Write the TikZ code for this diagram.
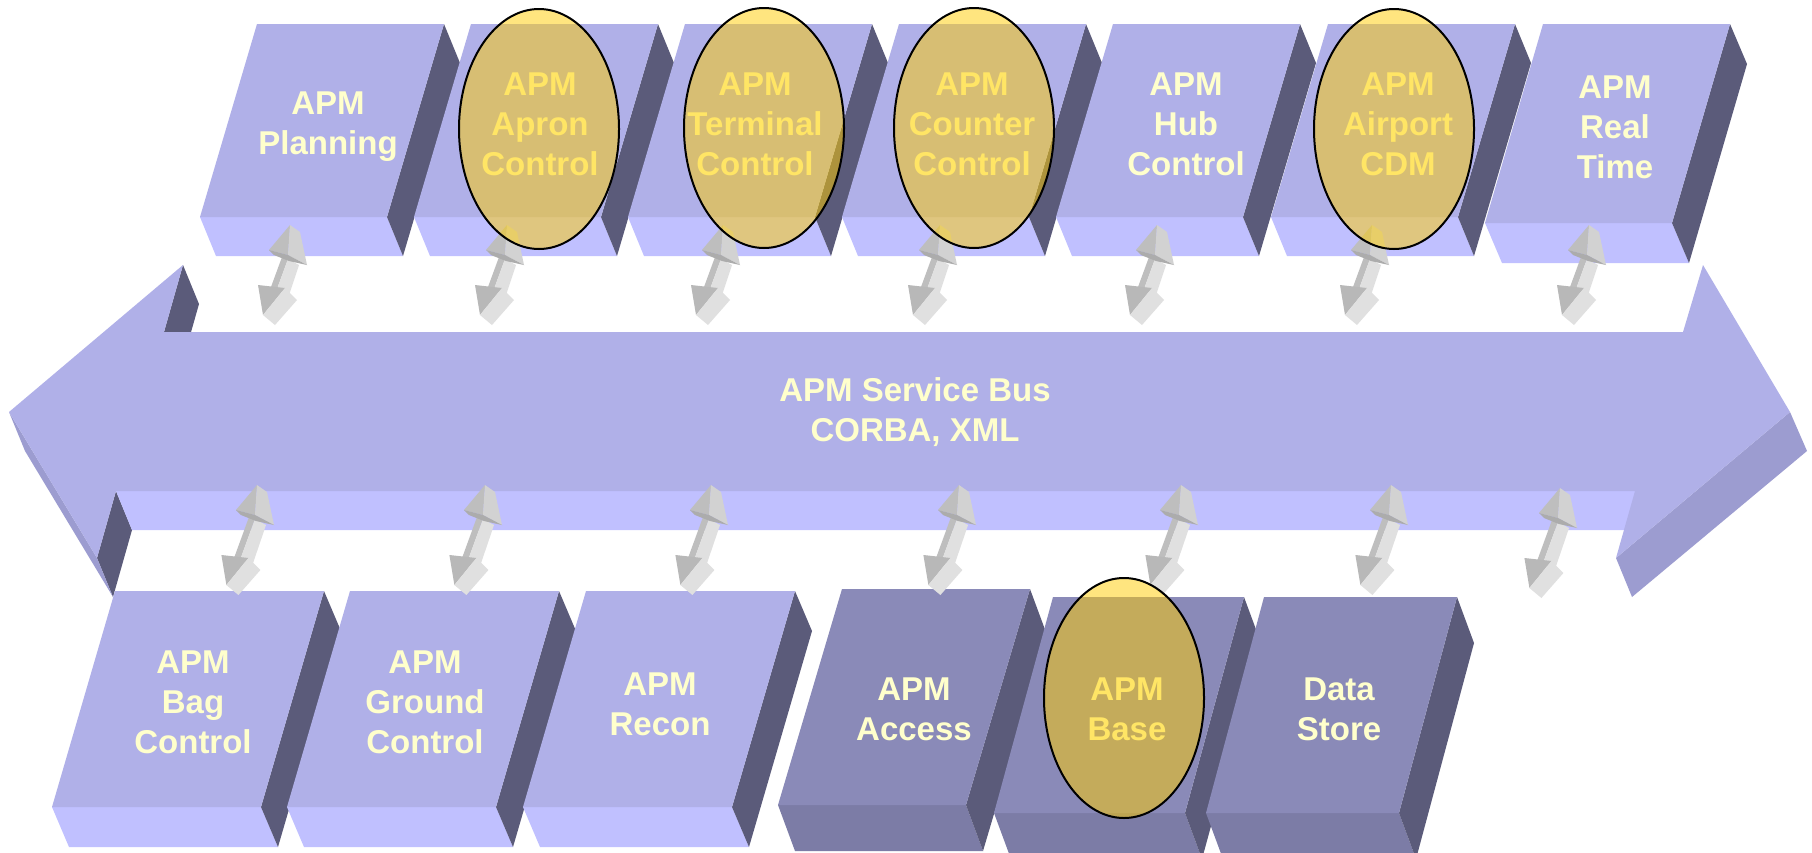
\documentclass[tikz,border=0pt]{standalone}
\usepackage{fontspec}
\setmainfont{Liberation Sans}
\usetikzlibrary{shapes.geometric}
\definecolor{topface}{RGB}{176,176,232}
\definecolor{lightface}{RGB}{192,192,255}
\definecolor{darkface}{RGB}{91,91,122}
\definecolor{midface}{RGB}{156,156,208}
\definecolor{dbfront}{RGB}{138,138,184}
\definecolor{dbbottom}{RGB}{124,124,166}
\definecolor{labelyellow}{RGB}{255,255,204}
\definecolor{hilite}{RGB}{255,204,0}
\definecolor{gmid}{RGB}{190,190,190}
\definecolor{gside}{RGB}{210,210,210}
\definecolor{gdark}{RGB}{172,172,172}
\definecolor{gdarkb}{RGB}{184,184,184}
\definecolor{glight}{RGB}{224,224,224}
% slab box: x y w h slant dx dy frontcolor bottomcolor
\newcommand{\slabbox}[9]{%
  \fill[#9] (#1-#5,#2+#4) -- ++(#3,0) -- ++(#6,#7) -- ++(-#3,0) -- cycle;
  \fill[darkface] (#1+#3,#2) -- ++(#6,#7) -- ++(-#5,#4) -- ++(-#6,-#7) -- cycle;
  \fill[#8] (#1,#2) -- ++(#3,0) -- ++(-#5,#4) -- ++(-#3,0) -- cycle;
}
% gray 3D double arrow: tip x, tip y, extra length
\newcommand{\dblarrow}[3]{%
  \begin{scope}[shift={(#1,#2)}]
    \fill[gmid] (-8,32) -- (-2,34) -- ({-13-0.36*#3},{64+#3}) -- ({-19-0.36*#3},{62+#3}) -- cycle;
    \fill[glight] (-2,34) -- (9,40) -- ({-1-0.36*#3},{70+#3}) -- ({-13-0.36*#3},{64+#3}) -- cycle;
    \fill[gmid] (0,0) -- (-21,25) -- (-2,30) -- cycle;
    \fill[gside] (0,0) -- (10,7) -- (17,40) -- (-2,30) -- cycle;
    \fill[gdark] (-21,25) -- (-2,30) -- (17,40) -- (-1,36) -- (-16,30) -- cycle;
    \begin{scope}[shift={({-0.36*#3},{#3})}]
      \fill[gdarkb] (-32,60) -- (-5,63) -- (-27,90) -- cycle;
      \fill[glight] (-5,63) -- (7,75) -- (-15,100) -- (-27,90) -- cycle;
    \end{scope}
  \end{scope}
}
\tikzset{
  lbl/.style={text=labelyellow, font=\fontsize{33}{40}\selectfont\bfseries, align=center, inner sep=0pt},
  hl/.style={ellipse, draw=black, line width=2pt, fill=hilite, fill opacity=0.5,
             minimum width=160pt, minimum height=240pt, inner sep=0pt}
}
\begin{document}
\begin{tikzpicture}[x=1pt,y=-1pt]
\useasboundingbox (0,0) rectangle (1812,852);
\fill[white] (0,0) rectangle (1812,852);

% top row of boxes
\foreach \x in {257,471,685,899,1113,1328} {\slabbox{\x}{24}{187}{193}{57}{16}{39}{topface}{lightface}}
\slabbox{1543}{24}{187}{199}{58}{17}{40}{topface}{lightface}

% service bus (3D double-headed arrow)
\fill[darkface] (183,265) -- (199,304) -- (180,371) -- (164,332) -- cycle;
\fill[darkface] (116,491) -- (132,530) -- (113,597) -- (97,558) -- cycle;
\fill[midface] (9,412) -- (25,451) -- (113,597) -- (97,558) -- cycle;
\fill[lightface] (116,491) -- (1635,491) -- (1651,530) -- (132,530) -- cycle;
\fill[midface] (1790,412) -- (1807,451) -- (1632,597) -- (1616,558) -- cycle;
\fill[topface] (9,412) -- (183,265) -- (164,332) -- (1683,332) -- (1703,265)
  -- (1790,412) -- (1616,558) -- (1635,491) -- (116,491) -- (97,558) -- cycle;

% bottom row of boxes
\foreach \x in {115,350,586} {\slabbox{\x}{591}{209}{216}{63}{17}{40}{topface}{lightface}}
\slabbox{842}{589}{188}{216}{64}{17}{46}{dbfront}{dbbottom}
\slabbox{1053}{597}{191}{216}{59}{17}{46}{dbfront}{dbbottom}
\slabbox{1264}{597}{193}{216}{58}{17}{46}{dbfront}{dbbottom}

% connectors (gray double arrows)
\foreach \x in {290,507,723,940,1157,1372,1589} {\dblarrow{\x}{225}{0}}
\foreach \x/\y in {257/485,485/485,711/485,959/485,1181/485,1391/485,1560/488} {\dblarrow{\x}{\y}{10}}

% labels
\node[lbl] (planning) at (328,127) {APM\\Planning};
\node[lbl] (apron) at (540,124) {APM\\Apron\\Control};
\node[lbl] (terminal) at (755,124) {APM\\Terminal\\Control};
\node[lbl] (counter) at (972,124) {APM\\Counter\\Control};
\node[lbl] (hub) at (1186,124) {APM\\Hub\\Control};
\node[lbl] (airport) at (1398,124) {APM\\Airport\\CDM};
\node[lbl] (realtime) at (1615,127) {APM\\Real\\Time};
\node[lbl] (bus) at (915,412) {APM Service Bus\\CORBA, XML};
\node[lbl] (bag) at (193,702) {APM\\Bag\\Control};
\node[lbl] (ground) at (425,702) {APM\\Ground\\Control};
\node[lbl] (recon) at (660,704) {APM\\Recon};
\node[lbl] (access) at (914,709) {APM\\Access};
\node[lbl] (base) at (1127,709) {APM\\Base};
\node[lbl] (datastore) at (1339,709) {Data\\Store};

% highlight ellipses
\node[hl] (h1) at (539,129) {};
\node[hl] (h2) at (764,128) {};
\node[hl] (h3) at (974,128) {};
\node[hl] (h4) at (1394,129) {};
\node[hl] (h5) at (1124,698) {};
\end{tikzpicture}
\end{document}
